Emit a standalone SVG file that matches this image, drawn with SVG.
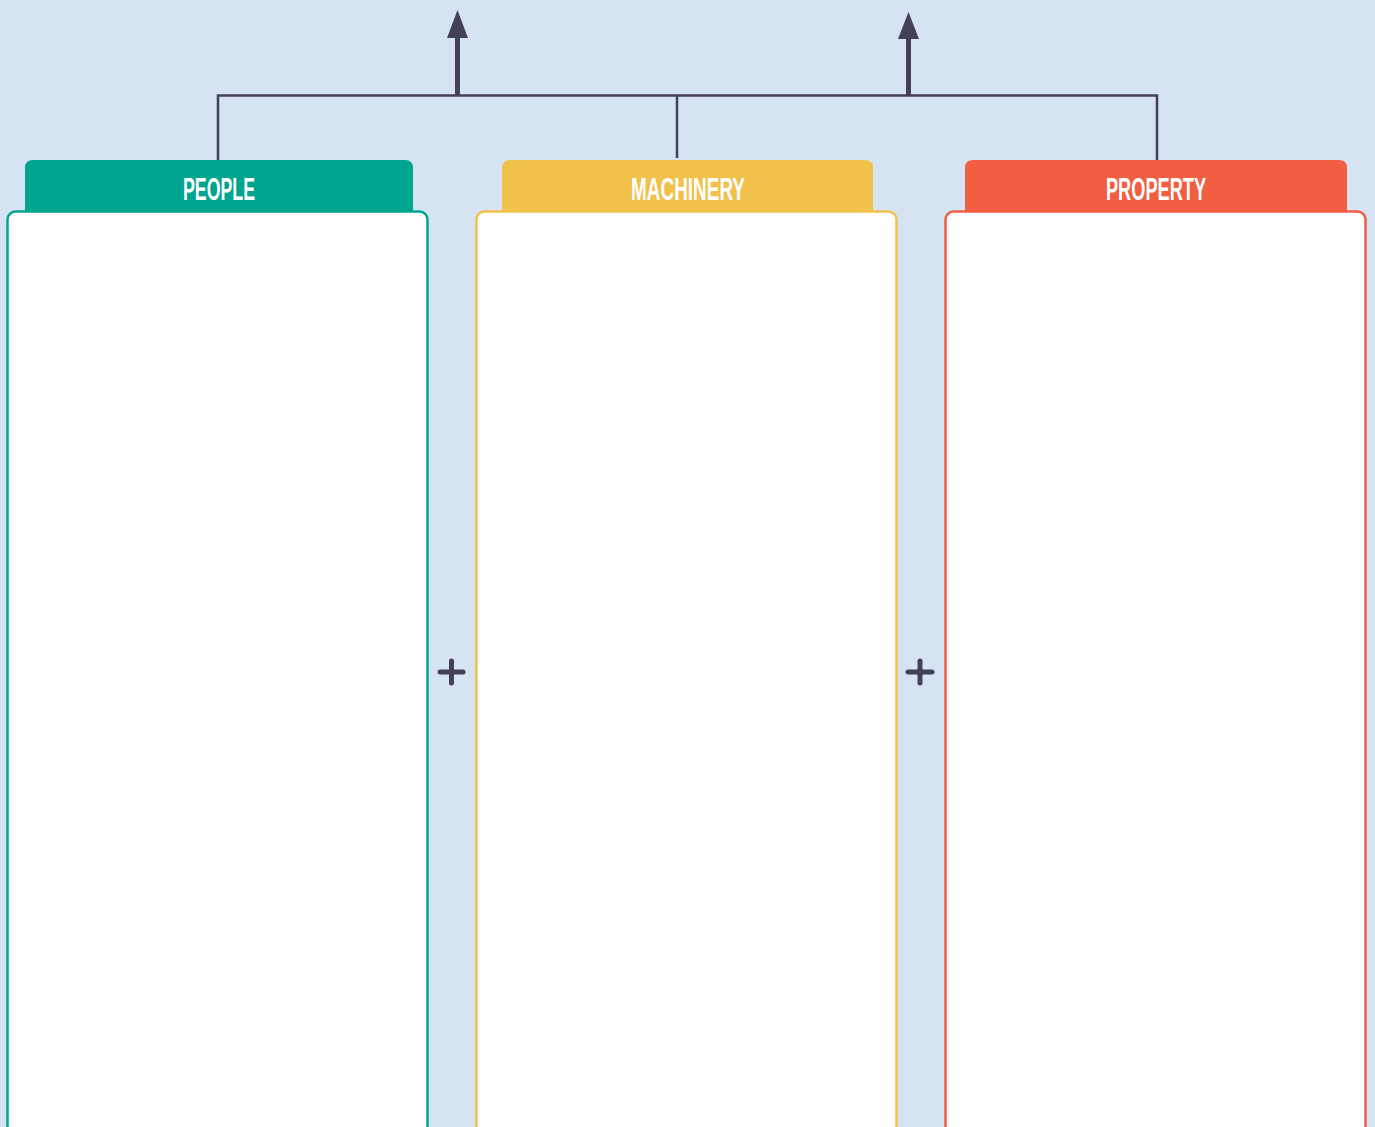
<svg xmlns="http://www.w3.org/2000/svg" width="1375" height="1127" viewBox="0 0 1375 1127">
<style>
.bg{fill:#D6E3F3}
.box{fill:#FFFFFF;stroke-width:2.5}
.lbl{font-family:"Liberation Sans",Arial,sans-serif;font-size:32px;font-weight:bold;fill:#FFFFFF;text-anchor:middle}
.conn{fill:none;stroke:#45405A;stroke-width:2.5}
.arr{fill:none;stroke:#45405A;stroke-width:5}
.head{fill:#45405A}
.plus{stroke:#45405A;stroke-width:5;stroke-linecap:round}
</style>
<rect class="bg" x="0" y="0" width="1375" height="1127"/>
<g id="connectors">
<path class="conn" d="M218,160 V95.5 H1157 V160"/>
<path class="conn" d="M677,95.5 V158"/>
<line class="arr" x1="457.5" y1="95" x2="457.5" y2="38"/>
<polygon class="head" points="447,38 468,38 457.5,10"/>
<line class="arr" x1="908.5" y1="95" x2="908.5" y2="39"/>
<polygon class="head" points="898,39 919,39 908.5,12"/>
</g>
<g id="people">
<path d="M25,212 V168 Q25,160 33,160 H405 Q413,160 413,168 V212 Z" fill="#00A58F"/>
<rect class="box" x="7.5" y="211.5" width="420" height="930" rx="8" stroke="#00A58F"/>
<text class="lbl" x="219" y="200" textLength="72" lengthAdjust="spacingAndGlyphs">PEOPLE</text>
</g>
<g id="machinery">
<path d="M502,212 V168 Q502,160 510,160 H865 Q873,160 873,168 V212 Z" fill="#F1C14B"/>
<rect class="box" x="476.5" y="211.5" width="420" height="930" rx="8" stroke="#F1C14B"/>
<text class="lbl" x="688" y="200" textLength="114" lengthAdjust="spacingAndGlyphs">MACHINERY</text>
</g>
<g id="property">
<path d="M965,212 V168 Q965,160 973,160 H1339 Q1347,160 1347,168 V212 Z" fill="#F15E42"/>
<rect class="box" x="945.5" y="211.5" width="420" height="930" rx="8" stroke="#F15E42"/>
<text class="lbl" x="1156" y="200" textLength="100" lengthAdjust="spacingAndGlyphs">PROPERTY</text>
</g>
<g id="plus1">
<line class="plus" x1="440" y1="672" x2="463" y2="672"/>
<line class="plus" x1="451.5" y1="661" x2="451.5" y2="683"/>
</g>
<g id="plus2">
<line class="plus" x1="908" y1="672" x2="932" y2="672"/>
<line class="plus" x1="920" y1="661" x2="920" y2="683"/>
</g>
</svg>
